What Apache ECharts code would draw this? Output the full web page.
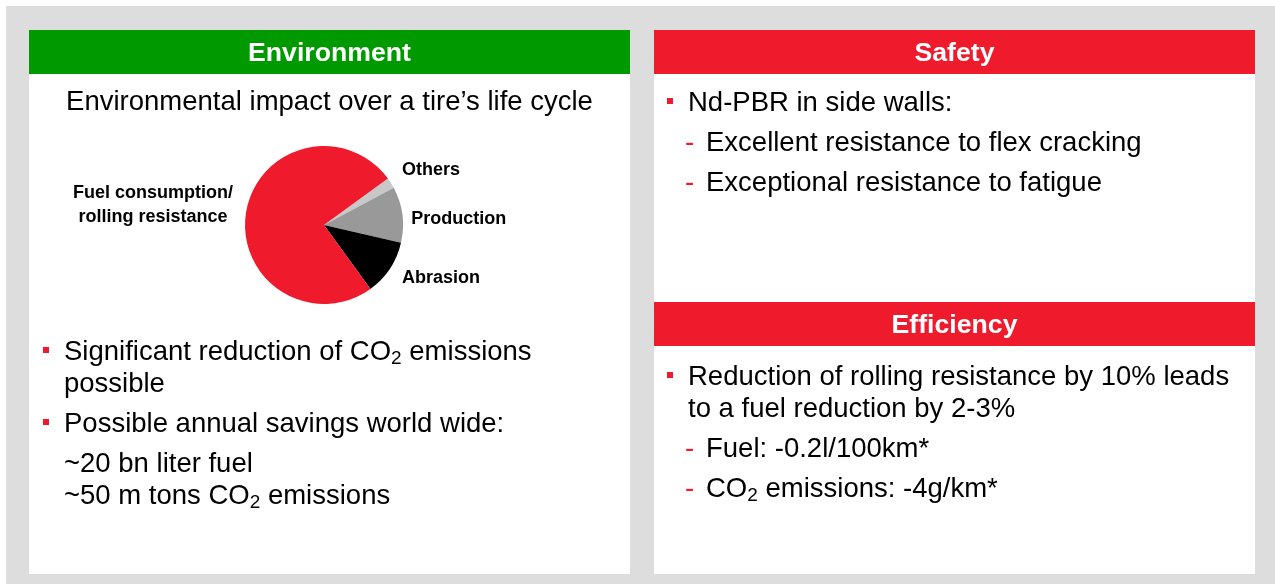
<!DOCTYPE html>
<html style="height: 100%">
<head>
<meta charset="utf-8">
</head>
<body style="height: 100%; margin: 0; background: #fff">
<div id="container" style="width: 1275px; height: 584px"></div>
<script type="text/javascript" src="https://cdn.jsdelivr.net/npm/echarts@6/dist/echarts.min.js"></script>
<script type="text/javascript">
// pie: environmental impact over a tire's life cycle (clockwise from upper right)
var pieNames = ['Others', 'Production', 'Abrasion', 'Fuel consumption/\nrolling resistance'];
var pieValues = [2.2, 11.4, 11.4, 75];

// panel texts
var headers = ['Environment', 'Safety', 'Efficiency'];
var envTitle = 'Environmental impact over a tire\u2019s life cycle';
var envParas = [
    { mark: 'square', lines: ['Significant reduction of CO{sub|2} emissions', 'possible'] },
    { mark: 'square', lines: ['Possible annual savings world wide:'] },
    { mark: null, lines: ['~20 bn liter fuel', '~50 m tons CO{sub|2} emissions'] }
];
var safetyParas = [
    { mark: 'square', lines: ['Nd-PBR in side walls:'] },
    { mark: 'dash', lines: ['Excellent resistance to flex cracking'] },
    { mark: 'dash', lines: ['Exceptional resistance to fatigue'] }
];
var effParas = [
    { mark: 'square', lines: ['Reduction of rolling resistance by 10% leads', 'to a fuel reduction by 2-3%'] },
    { mark: 'dash', lines: ['Fuel: -0.2l/100km*'] },
    { mark: 'dash', lines: ['CO{sub|2} emissions: -4g/km*'] }
];

var RED = '#ef1b2d';
var GREEN = '#009900';
var FONT = '"Liberation Sans", Arial, sans-serif';
var BODY = 27.5;
var HEAD = 26.67;

var dom = document.getElementById('container');
var myChart = echarts.init(dom);

var g = [];
// background
g.push({ type: 'rect', shape: { x: 6, y: 6, width: 1269, height: 578 }, style: { fill: '#dddddd' }, z: 0 });
// panels
g.push({ type: 'rect', shape: { x: 29, y: 30, width: 601, height: 544 }, style: { fill: '#fff' }, z: 1 });
g.push({ type: 'rect', shape: { x: 654, y: 30, width: 601, height: 544 }, style: { fill: '#fff' }, z: 1 });

function header(x, y, color, label) {
    g.push({ type: 'rect', shape: { x: x, y: y, width: 601, height: 44 }, style: { fill: color }, z: 2 });
    g.push({
        type: 'text', x: x + 300.5, y: y + 24, z: 3,
        style: { text: label, fill: '#fff', font: 'bold ' + HEAD + 'px ' + FONT, align: 'center', verticalAlign: 'middle' }
    });
}
header(29, 30, GREEN, headers[0]);
header(654, 30, RED, headers[1]);
header(654, 302, RED, headers[2]);

g.push({
    type: 'text', x: 329.5, y: 102, z: 3,
    style: { text: envTitle, fill: '#000', font: BODY + 'px ' + FONT, align: 'center', verticalAlign: 'middle' }
});

var richStyle = {
    sub: { fontSize: 19, lineHeight: 13, verticalAlign: 'bottom', fontFamily: FONT, fill: '#000' }
};

function addBlock(markX, textX, y0, paras) {
    var y = y0;
    paras.forEach(function (p) {
        p.lines.forEach(function (line, i) {
            var tx = p.mark === 'dash' ? textX + 18 : textX;
            g.push({
                type: 'text', x: tx, y: y, z: 3,
                style: {
                    text: line, fill: '#000', fontSize: BODY, fontFamily: FONT, lineHeight: 32,
                    align: 'left', verticalAlign: 'middle', rich: richStyle
                }
            });
            if (i === 0 && p.mark === 'square') {
                g.push({ type: 'rect', shape: { x: markX, y: y - 5, width: 6, height: 6 }, style: { fill: RED }, z: 3 });
            }
            if (i === 0 && p.mark === 'dash') {
                g.push({
                    type: 'text', x: textX - 3, y: y, z: 3,
                    style: { text: '-', fill: RED, font: BODY + 'px ' + FONT, align: 'left', verticalAlign: 'middle' }
                });
            }
            y += 32;
        });
        y += 8;
    });
}
addBlock(43, 64, 352, envParas);
addBlock(667, 688, 103, safetyParas);
addBlock(667, 688, 377, effParas);

// nudges for the pie's outside labels: [dx, dy, align]
var labelShift = {
    'Others': [1, -10],
    'Production': [-2, 5],
    'Abrasion': [2, 6],
    'Fuel consumption/\nrolling resistance': [-82, -7, 'center']
};

var option = {
    animation: false,
    graphic: { elements: g },
    series: [{
        type: 'pie',
        center: [324, 225],
        radius: 79,
        startAngle: 36,
        clockwise: true,
        avoidLabelOverlap: false,
        z: 10,
        data: pieNames.map(function (n, i) { return { name: n, value: pieValues[i] }; }),
        color: ['#c8c8c8', '#999999', '#000000', RED],
        itemStyle: { borderWidth: 0 },
        label: {
            show: true, position: 'outside', color: '#000', fontFamily: FONT,
            fontWeight: 'bold', fontSize: 18, lineHeight: 24, distanceToLabelLine: 5
        },
        labelLine: { show: false, length: 6, length2: 0 },
        labelLayout: function (params) {
            var s = labelShift[params.text] || [0, 0];
            var res = { dx: s[0], dy: s[1] };
            if (s[2]) res.align = s[2];
            return res;
        },
        emphasis: { disabled: true }
    }]
};
myChart.setOption(option);
</script>
</body>
</html>
